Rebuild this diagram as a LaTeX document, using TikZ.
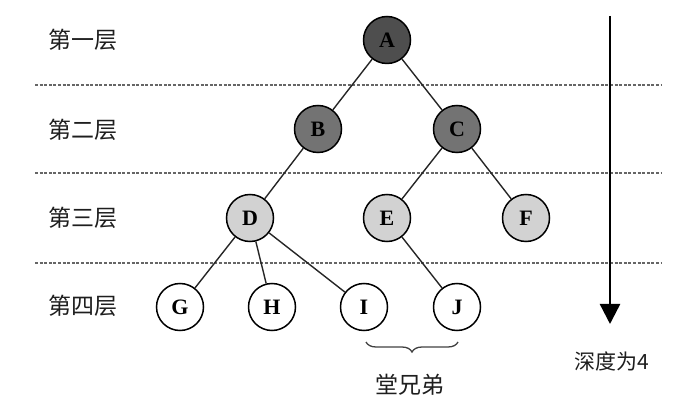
\documentclass[tikz,border=0pt]{standalone}
\usepackage{fontspec}
\setmainfont{Liberation Serif}
\newfontfamily\cjk{Noto Sans CJK SC}
\usetikzlibrary{arrows.meta,decorations.pathreplacing}
\definecolor{darkfill}{HTML}{4E4E4E}
\definecolor{midfill}{HTML}{737373}
\definecolor{lightfill}{HTML}{D2D2D2}
\definecolor{txtgray}{HTML}{1E1E1E}
\tikzset{
  treenode/.style={circle, draw=black, line width=1.5pt, minimum size=47pt, inner sep=0pt, font=\fontsize{22}{22}\selectfont\bfseries},
  lvA/.style={treenode, fill=darkfill},
  lvB/.style={treenode, fill=midfill},
  lvC/.style={treenode, fill=lightfill},
  lvD/.style={treenode, fill=white},
  layerline/.style={draw=gray!80!black, line width=1.3pt, dash pattern=on 3pt off 1.6pt},
  layerlabel/.style={font=\cjk\fontsize{23}{23}\selectfont, text=txtgray},
  edge/.style={draw=black!85, line width=1.4pt}
}
\begin{document}
\begin{tikzpicture}[x=1pt,y=-1pt]
\useasboundingbox (0,0) rectangle (690,411);
% layer separators
\coordinate (l1a) at (35,85);  \coordinate (l1b) at (661,85);
\coordinate (l2a) at (35,173); \coordinate (l2b) at (661,173);
\coordinate (l3a) at (35,263); \coordinate (l3b) at (661,263);
\draw[layerline] (l1a) -- (l1b);
\draw[layerline] (l2a) -- (l2b);
\draw[layerline] (l3a) -- (l3b);
% labels
\node[layerlabel] (t1) at (83,40) {第一层};
\node[layerlabel] (t2) at (83,130) {第二层};
\node[layerlabel] (t3) at (83,218) {第三层};
\node[layerlabel] (t4) at (83,306) {第四层};
% nodes
\node[lvA] (A) at (387,40) {A};
\node[lvB] (B) at (318,129) {B};
\node[lvB] (C) at (457,129) {C};
\node[lvC] (D) at (250,218) {D};
\node[lvC] (E) at (387,218) {E};
\node[lvC] (F) at (526,218) {F};
\node[lvD] (G) at (180,307) {G};
\node[lvD] (H) at (272,307) {H};
\node[lvD] (I) at (364,307) {I};
\node[lvD] (J) at (457,307) {J};
% edges
\draw[edge] (A) -- (B);
\draw[edge] (A) -- (C);
\draw[edge] (B) -- (D);
\draw[edge] (C) -- (E);
\draw[edge] (C) -- (F);
\draw[edge] (D) -- (G);
\draw[edge] (D) -- (H);
\draw[edge] (D) -- (I);
\draw[edge] (E) -- (J);
% brace
\coordinate (br1) at (458,342);
\coordinate (br2) at (366,342);
\draw[line width=1.3pt, draw=black!75, decorate, decoration={brace, amplitude=10pt}] (br1) -- (br2);
\node[layerlabel] (sib) at (410,385) {堂兄弟};
% depth arrow
\coordinate (dtop) at (610,16);
\coordinate (dbot) at (610,324);
\draw[line width=2.4pt, -{Triangle[length=20pt,width=20pt]}] (dtop) -- (dbot);
\node[font=\cjk\fontsize{21}{21}\selectfont, text=txtgray] (depth) at (612,361) {深度为4};
\end{tikzpicture}
\end{document}
